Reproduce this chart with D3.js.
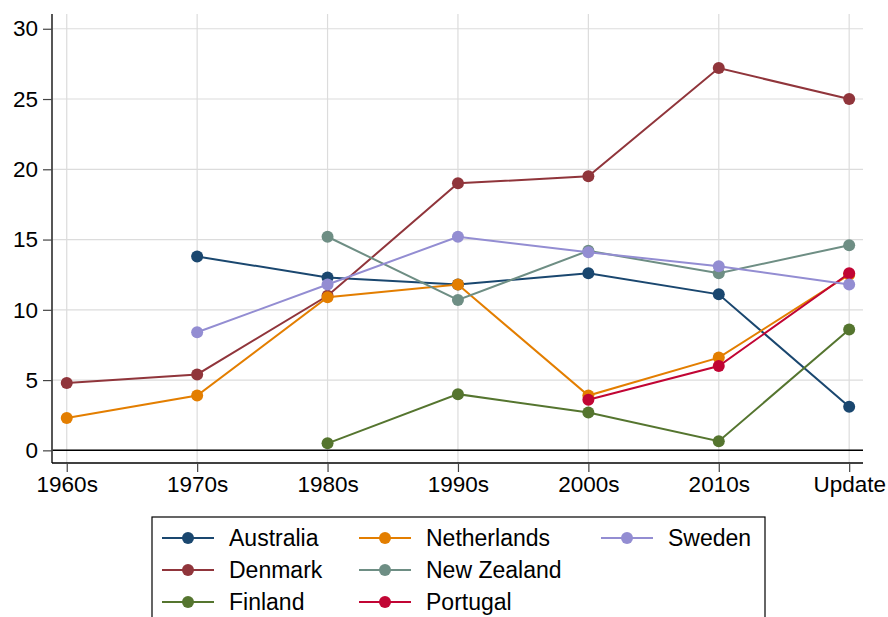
<!DOCTYPE html>
<html>
<head>
<meta charset="utf-8">
<script src="https://cdn.jsdelivr.net/npm/d3@7"></script>
<style>
  body { margin: 0; background: #fff; }
  text { font-family: "Liberation Sans", Arial, sans-serif; }
</style>
</head>
<body>
<div id="chart"></div>
<script>
const decades = ['1960s', '1970s', '1980s', '1990s', '2000s', '2010s', 'Update'];
const yTicks = [0, 5, 10, 15, 20, 25, 30];

// null = no value for that period
const australia   = [null, 13.8, 12.3, 11.8, 12.6, 11.1, 3.1];
const denmark     = [4.8, 5.4, 11.0, 19.0, 19.5, 27.2, 25.0];
const finland     = [null, null, 0.5, 4.0, 2.7, 0.65, 8.6];
const netherlands = [2.3, 3.9, 10.9, 11.8, 3.9, 6.6, 12.5];
const newZealand  = [null, null, 15.2, 10.7, 14.2, 12.6, 14.6];
const portugal    = [null, null, null, null, 3.6, 6.0, 12.6];
const sweden      = [null, 8.4, 11.8, 15.2, 14.1, 13.1, 11.8];

const series = [
  { name: 'Australia',   values: australia,   color: '#1a476f' },
  { name: 'Denmark',     values: denmark,     color: '#90353b' },
  { name: 'Finland',     values: finland,     color: '#55752f' },
  { name: 'Netherlands', values: netherlands, color: '#e37e00' },
  { name: 'New Zealand', values: newZealand,  color: '#6e8e84' },
  { name: 'Portugal',    values: portugal,    color: '#c10534' },
  { name: 'Sweden',      values: sweden,      color: '#938dd2' }
];

const W = 888, H = 617;
const plot = { left: 52, right: 863, top: 14, bottom: 463 };

const svg = d3.select('#chart').append('svg')
  .attr('width', W).attr('height', H);

const x = d3.scaleLinear()
  .domain([-0.113, decades.length - 1 + 0.106])
  .range([plot.left, plot.right]);
const y = d3.scaleLinear()
  .domain([-0.9, 31.05])
  .range([plot.bottom, plot.top]);

// grid
svg.append('g').selectAll('line').data(yTicks).join('line')
  .attr('x1', plot.left).attr('x2', plot.right)
  .attr('y1', d => y(d)).attr('y2', d => y(d))
  .attr('stroke', '#dcdcdc').attr('stroke-width', 1.2);
svg.append('g').selectAll('line').data(decades).join('line')
  .attr('x1', (d, i) => x(i)).attr('x2', (d, i) => x(i))
  .attr('y1', plot.top).attr('y2', plot.bottom)
  .attr('stroke', '#dcdcdc').attr('stroke-width', 1.2);

// zero line
svg.append('line')
  .attr('x1', plot.left).attr('x2', plot.right)
  .attr('y1', y(0)).attr('y2', y(0))
  .attr('stroke', '#000').attr('stroke-width', 1.5);

// axes
const yAxis = d3.axisLeft(y).tickValues(yTicks).tickSize(9).tickPadding(5);
const gy = svg.append('g').attr('transform', `translate(${plot.left},0)`).call(yAxis);
gy.select('.domain').attr('d', `M0,${plot.top}V${plot.bottom}`).attr('stroke', '#444').attr('stroke-width', 1.8);
gy.selectAll('.tick line').attr('stroke', '#444').attr('stroke-width', 1.2);
gy.selectAll('text').attr('font-size', 22.5).attr('fill', '#000')
  .style('font-family', '"Liberation Sans", Arial, sans-serif');

const xAxis = d3.axisBottom(x).tickValues(d3.range(decades.length))
  .tickFormat(i => decades[i]).tickSize(9).tickPadding(4);
const gx = svg.append('g').attr('transform', `translate(0,${plot.bottom})`).call(xAxis);
gx.select('.domain').attr('d', `M${plot.left},0H${plot.right}`).attr('stroke', '#000').attr('stroke-width', 1.5);
gx.selectAll('.tick line').attr('stroke', '#444').attr('stroke-width', 1.2);
gx.selectAll('text').attr('font-size', 22.5).attr('fill', '#000')
  .style('font-family', '"Liberation Sans", Arial, sans-serif');

// lines and markers
series.forEach(s => {
  const g = svg.append('g');
  const pts = s.values.map((v, i) => ({ v, i })).filter(d => d.v != null);
  g.append('path')
    .attr('d', d3.line().x(d => x(d.i)).y(d => y(d.v))(pts))
    .attr('fill', 'none').attr('stroke', s.color).attr('stroke-width', 2);
  g.selectAll('circle').data(pts).join('circle')
    .attr('cx', d => x(d.i)).attr('cy', d => y(d.v))
    .attr('r', 6).attr('fill', s.color);
});

// legend
const legendBox = { x: 152, y: 517, w: 613, h: 110 };
svg.append('rect')
  .attr('x', legendBox.x).attr('y', legendBox.y)
  .attr('width', legendBox.w).attr('height', legendBox.h)
  .attr('fill', '#fff').attr('stroke', '#000').attr('stroke-width', 1.2);

const colX = [162, 359, 601];
const rowY = [538, 570, 602];
series.forEach((s, k) => {
  const col = Math.floor(k / 3), row = k % 3;
  const gx0 = colX[col], gy0 = rowY[row];
  const lg = svg.append('g');
  lg.append('line').attr('x1', gx0).attr('x2', gx0 + 52)
    .attr('y1', gy0).attr('y2', gy0)
    .attr('stroke', s.color).attr('stroke-width', 2);
  lg.append('circle').attr('cx', gx0 + 26).attr('cy', gy0).attr('r', 6).attr('fill', s.color);
  lg.append('text').attr('x', gx0 + 67).attr('y', gy0).attr('dy', '0.35em')
    .attr('font-size', 23).text(s.name);
});
</script>
</body>
</html>
